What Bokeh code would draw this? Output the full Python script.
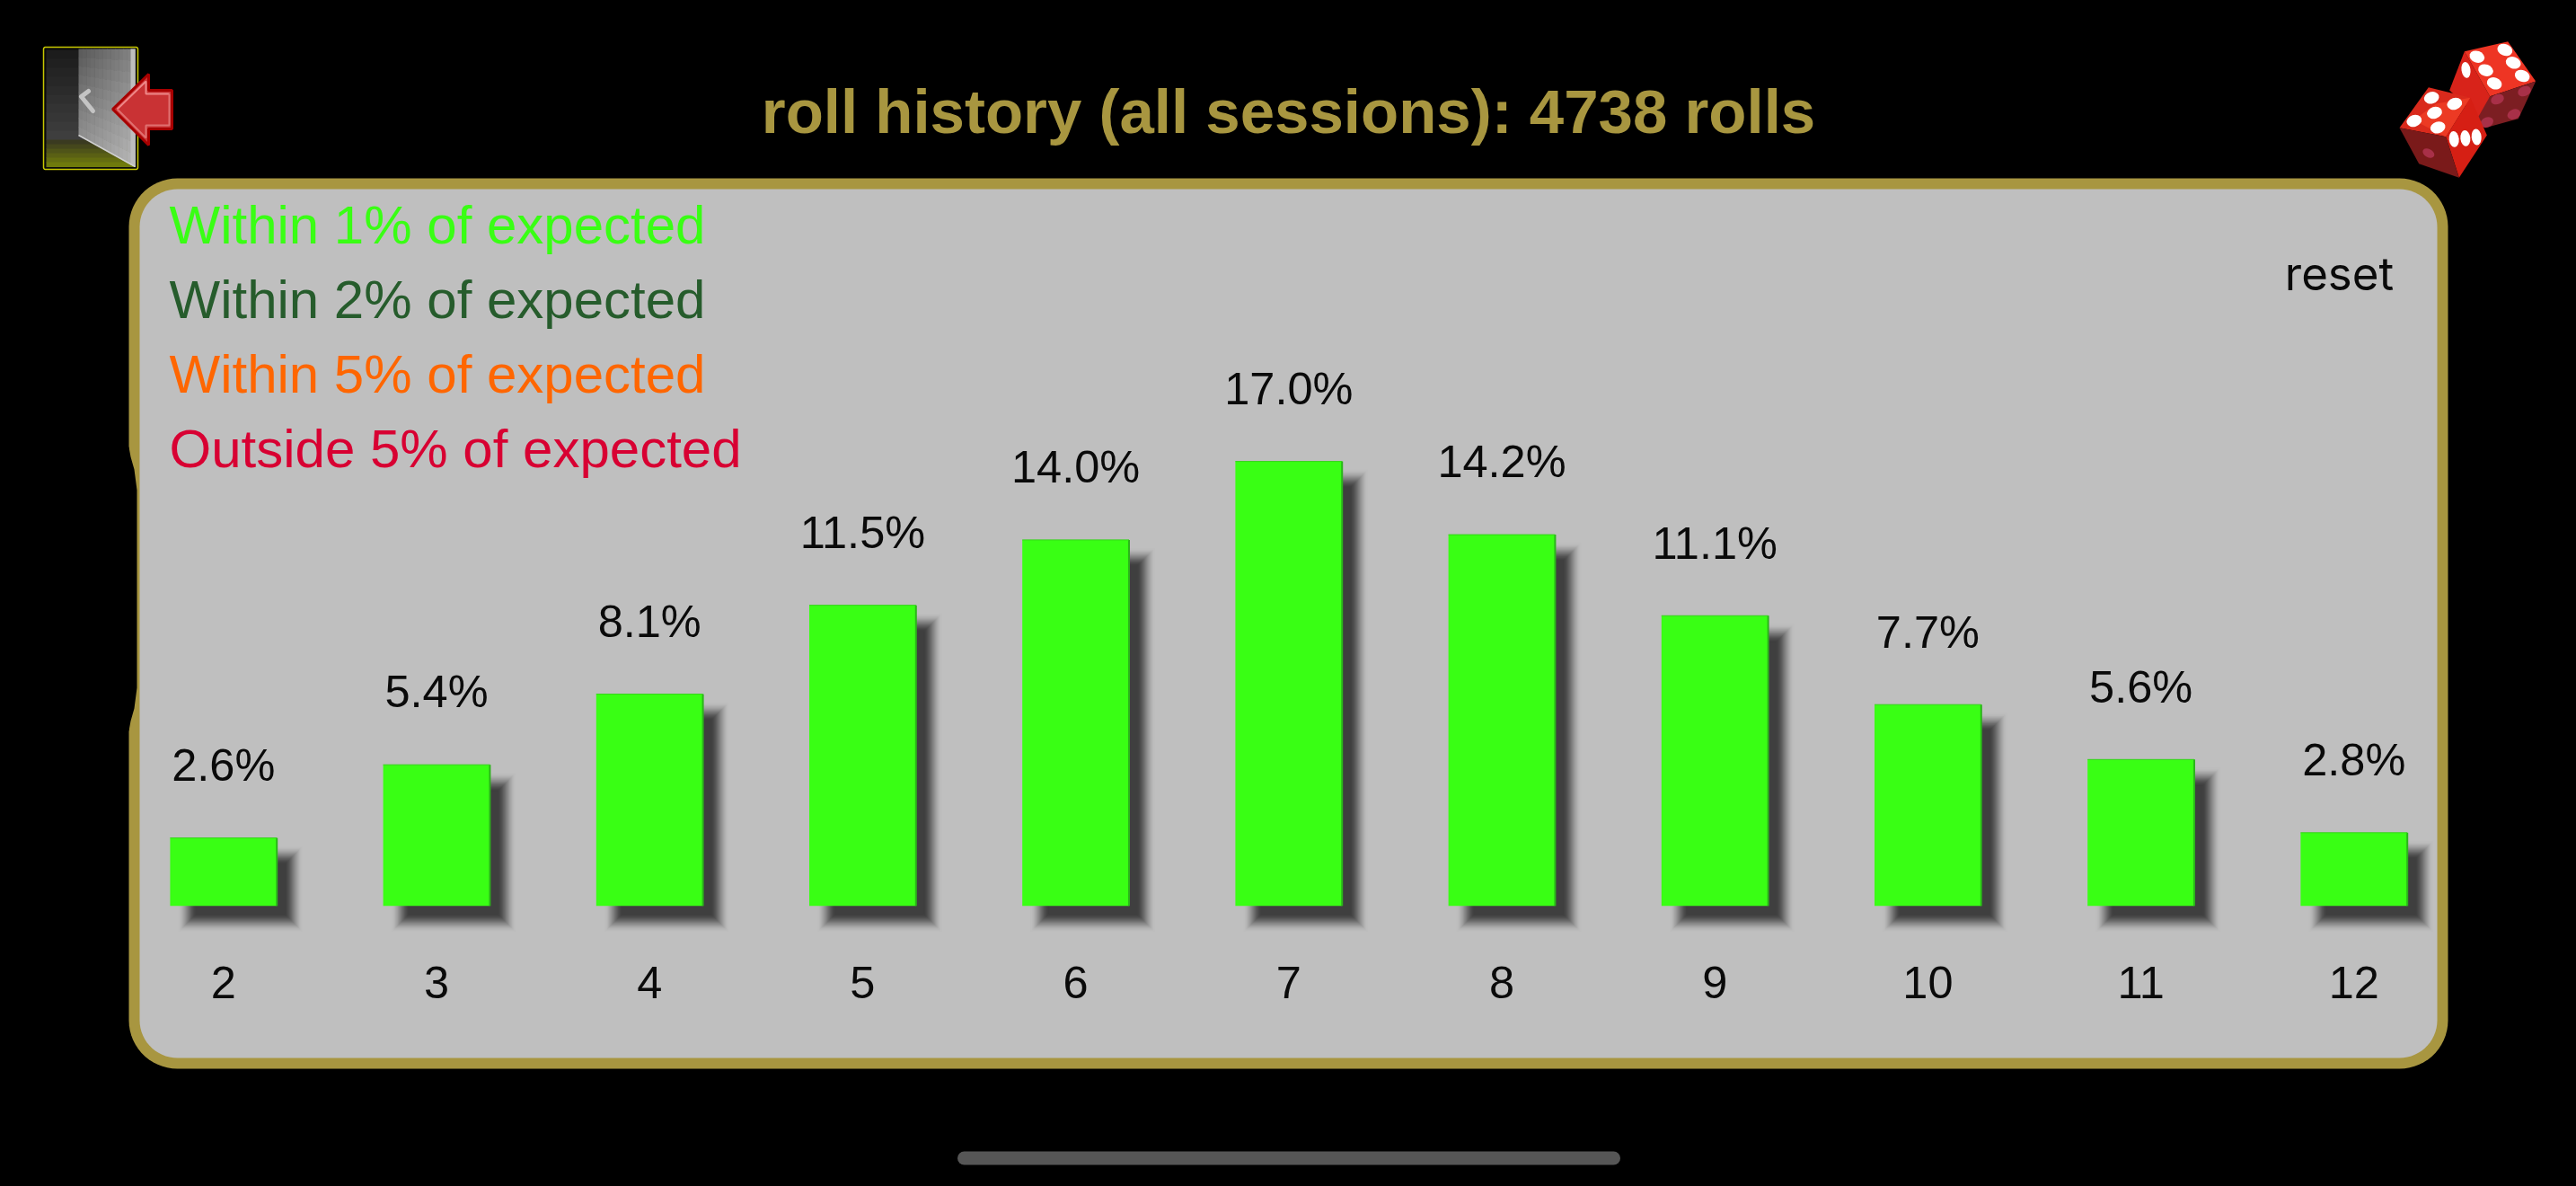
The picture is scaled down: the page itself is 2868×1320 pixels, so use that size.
import numpy as np
from bokeh.core.properties import value
from bokeh.embed import file_html
from bokeh.models import ColumnDataSource, FixedTicker, Label, Range1d
from bokeh.plotting import figure
from bokeh.resources import INLINE

# ---- chart data -------------------------------------------------------
totals = [2, 3, 4, 5, 6, 7, 8, 9, 10, 11, 12]
percents = [2.6, 5.4, 8.1, 11.5, 14.0, 17.0, 14.2, 11.1, 7.7, 5.6, 2.8]
legend_labels = ["Within 1% of expected", "Within 2% of expected",
                 "Within 5% of expected", "Outside 5% of expected"]
legend_colors = ["#39FF14", "#265C2C", "#FF6600", "#D80032"]
title_text = "roll history (all sessions): 4738 rolls"
reset_text = "reset"

GOLD = "#A89640"
GREY = "#BFBFBF"
BAR = "#39FF14"
W, H = 2868, 1320
FONT = value("Liberation Sans")
LIFT = 0.34  # em: the SVG text sits this far below the requested baseline

# scales: window pixel position of the axis values
PX_PER_TOTAL = 237.2
X7 = 1434.3
PX_PER_PCT = 29.1
Y0 = 1007.8
x0 = 7 - X7 / PX_PER_TOTAL
y_bottom = -(H - Y0) / PX_PER_PCT

p = figure(width=W, height=H, output_backend="svg", toolbar_location=None,
           x_range=Range1d(x0, x0 + W / PX_PER_TOTAL),
           y_range=Range1d(y_bottom, y_bottom + H / PX_PER_PCT),
           min_border=0, min_border_left=0, min_border_right=0,
           min_border_top=0, min_border_bottom=0,
           background_fill_color="black", border_fill_color="black",
           outline_line_color=None)
p.grid.visible = False
p.yaxis.visible = False
p.extra_x_ranges["px"] = Range1d(0, W)
p.extra_y_ranges["px"] = Range1d(H, 0)
PX = dict(x_range_name="px", y_range_name="px")


def rrect(x0_, y0_, x1_, y1_, r, n=16):
    t = np.linspace(0, np.pi / 2, n)
    xs, ys = [], []
    for cx, cy, a in [(x1_ - r, y0_ + r, -np.pi / 2), (x1_ - r, y1_ - r, 0),
                      (x0_ + r, y1_ - r, np.pi / 2), (x0_ + r, y0_ + r, np.pi)]:
        xs += list(cx + r * np.cos(t + a))
        ys += list(cy + r * np.sin(t + a))
    return xs, ys


def lerp(c0, c1, f):
    a = [int(c0[i:i + 2], 16) for i in (1, 3, 5)]
    b = [int(c1[i:i + 2], 16) for i in (1, 3, 5)]
    return "#%02x%02x%02x" % tuple(round(u + (v - u) * f) for u, v in zip(a, b))


# ---- panel ------------------------------------------------------------
xs, ys = rrect(143, 198, 2725, 1189, 54)
p.patch(xs, ys, fill_color=GOLD, line_color=None, **PX)
xs, ys = rrect(155, 210, 2713, 1177, 42)
p.patch(xs, ys, fill_color=GREY, line_color=None, **PX)
# notch of the screen's curved cut-out on the left side of the border
p.patch([135, 143, 145, 149, 152, 152, 149, 145, 143, 135],
        [497, 497, 508, 522, 545, 765, 788, 802, 813, 813],
        fill_color="black", line_color=None, **PX)

# ---- bars with a blurred drop shadow ----------------------------------
t_arr = np.array(totals, dtype=float)
v_arr = np.array(percents, dtype=float)
half = 59.4 / PX_PER_TOTAL
OFF = 19
BLUR = 10
NL = 20
prev = 0.0
for k in range(NL):
    s = k / (NL - 1)
    grow = BLUR * (1 - 2 * s)
    cov = max(0.985 * (s * s * (3 - 2 * s)), 0.01)   # smooth falloff of the blur
    a = 1 - (1 - cov) / (1 - prev)
    prev = cov
    dx0 = (OFF - grow) / PX_PER_TOTAL
    dx1 = (OFF + grow) / PX_PER_TOTAL
    dy = (OFF + grow) / PX_PER_PCT
    dt = (OFF - grow) / PX_PER_PCT
    p.quad(left=t_arr - half + dx0, right=t_arr + half + dx1,
           top=v_arr - dt, bottom=np.full(len(t_arr), -dy),
           fill_color="#3E3E3E", fill_alpha=max(a, 0.004), line_color=None)

bars = ColumnDataSource(dict(x=totals, top=percents, bottom=[0] * len(totals),
                             left=t_arr - half, right=t_arr + half,
                             label=["%.1f%%" % v for v in percents]))
p.quad(left="left", right="right", top="top", bottom="bottom", source=bars,
       fill_color=BAR, line_color=None)
p.segment(x0="right", y0="bottom", x1="right", y1="top", source=bars,
          line_color="#2BB51A", line_width=2)
p.segment(x0="left", y0="top", x1="right", y1="top", source=bars,
          line_color="#33D418", line_width=1)
p.text(x="x", y="top", text="label", source=bars, text_font=FONT,
       text_font_size="50.5px", text_color="#0A0A0A", text_align="center",
       text_baseline="alphabetic", y_offset=-64 - LIFT * 50.5)

# ---- axis with the dice totals ----------------------------------------
ax = p.xaxis[0]
ax.fixed_location = -2.13
ax.ticker = FixedTicker(ticks=totals)
ax.axis_line_color = None
ax.major_tick_line_color = None
ax.minor_tick_line_color = None
ax.major_label_text_font = "Liberation Sans"
ax.major_label_text_font_size = "50.5px"
ax.major_label_text_color = "#0A0A0A"
ax.major_label_standoff = 0

# ---- texts ------------------------------------------------------------
p.add_layout(Label(x=1434, y=147 - LIFT * 69, text=title_text, text_font="Liberation Sans",
                   text_font_style="bold", text_font_size="69px", text_color=GOLD,
                   text_align="center", text_baseline="alphabetic", **PX))
leg = ColumnDataSource(dict(x=[188] * 4, y=[270 - LIFT * 60, 353 - LIFT * 60,
                                            436 - LIFT * 60, 519 - LIFT * 60],
                            t=legend_labels, c=legend_colors))
p.text(x="x", y="y", text="t", text_color="c", source=leg, text_font=FONT,
       text_font_size="60px", text_baseline="alphabetic", **PX)
p.add_layout(Label(x=2604, y=321 - LIFT * 51, text=reset_text, text_font="Inter",
                   text_font_size="51px", text_color="#0A0A0A",
                   text_align="center", text_baseline="alphabetic", **PX))

# ---- door icon --------------------------------------------------------
xs, ys = rrect(48, 52, 153, 188, 2, 4)
p.patch(xs, ys, fill_color="#0A0A0A", line_color="#C8C800", line_width=1.5, **PX)
for i in range(10):
    f = i / 9
    y = 55 + i * 10
    p.quad(left=51, right=150, top=y, bottom=y + 10.5,
           fill_color=lerp("#1C1C1C", "#3E3E3E", f), line_color=None, **PX)
for i in range(6):
    f = i / 5
    y = 155 + i * 5
    p.quad(left=51, right=150, top=y, bottom=y + 5.5,
           fill_color=lerp("#3A3A20", "#6F7A0C", f), line_color=None, **PX)
door_xs, door_ys, door_cs = [], [], []
for i in range(14):
    a, b = 87 + i * 4.5, 87 + (i + 1) * 4.5
    ya = 150 + (a - 87) * 35 / 63
    yb = 150 + (b - 87) * 35 / 63
    for j in range(10):
        top_a, bot_a = 54 + (ya - 54) * j / 10, 54 + (ya - 54) * (j + 1) / 10 + .5
        top_b, bot_b = 54 + (yb - 54) * j / 10, 54 + (yb - 54) * (j + 1) / 10 + .5
        door_xs.append([a, b + .4, b + .4, a])
        door_ys.append([top_a, top_b, bot_b, bot_a])
        door_cs.append(lerp("#5C5C5C", "#B4B4B4", 0.45 * i / 13 + 0.55 * j / 9))
p.patches(door_xs, door_ys, fill_color=door_cs, line_color=None, **PX)
p.patch([145, 150, 150, 145], [54, 54, 185, 183], fill_color="#BEBEBE", line_color=None, **PX)
p.line([87, 150], [150, 185], line_color="#CFCFCF", line_width=1.5, **PX)
p.line([98, 90, 103], [101, 107, 123], line_color="#C4C4C4", line_width=5,
       line_cap="round", line_join="round", **PX)
p.patch([125, 165, 165, 191, 191, 165, 165], [121, 82, 100, 100, 143, 143, 161],
        fill_color="#C93234", line_color="#A80000", line_width=3, **PX)
p.line([130, 162, 162, 188], [121, 90, 104, 104], line_color="#EE8888", line_width=2, **PX)
p.line([188, 188, 162, 162, 130], [104, 139, 139, 153, 121], line_color="#E07070", line_width=2, **PX)


# ---- dice icon --------------------------------------------------------
def D(points):
    return [2500 + a / 3 for a, _ in points], [b / 3 for _, b in points]


def poly(points, color):
    dx, dy = D(points)
    p.patch(dx, dy, fill_color=color, line_color=None, **PX)


def pips(points, w, h, angle, color):
    dx, dy = D(points)
    p.ellipse(dx, dy, width=w, height=h, angle=angle, width_units="screen",
              height_units="screen", fill_color=color, line_color=None, **PX)


poly([(730, 170), (680, 300), (795, 405), (815, 320)], "#D8231A")
poly([(730, 170), (875, 137), (968, 270), (815, 320)], "#EE3524")
poly([(815, 320), (968, 270), (910, 395), (800, 425), (770, 400)], "#7C1E22")
pips([(772, 188), (801, 233), (830, 277), (865, 165), (893, 208), (923, 252)], 17, 13, -0.35, "white")
pips([(735, 232)], 10, 18, 0.15, "white")
pips([(840, 330), (930, 303), (895, 380), (805, 407)], 15, 11, 0.4, "#A83048")
poly([(610, 290), (750, 325), (668, 455), (513, 425)], "#D92A1C")
poly([(635, 345), (750, 325), (668, 455), (560, 400)], "#EC3A24")
poly([(750, 325), (805, 450), (712, 592), (668, 455)], "#D61F14")
poly([(513, 425), (668, 455), (712, 592), (578, 545)], "#7A1A1A")
pips([(620, 325), (697, 345), (630, 375), (562, 402), (641, 424)], 17, 13, 0.3, "white")
pips([(695, 463), (733, 460), (770, 456)], 11, 18, 0.1, "white")
pips([(610, 510)], 14, 9, -0.5, "#A83048")

# ---- home indicator ---------------------------------------------------
p.line([1073, 1796], [1288.5, 1288.5], line_color="#565656", line_width=15,
       line_cap="round", **PX)

html = file_html(p, INLINE)
html = html.replace("<head>", "<head><style>html,body{background:#000;overflow:hidden}</style>", 1)
open("out.html", "w").write(html)
